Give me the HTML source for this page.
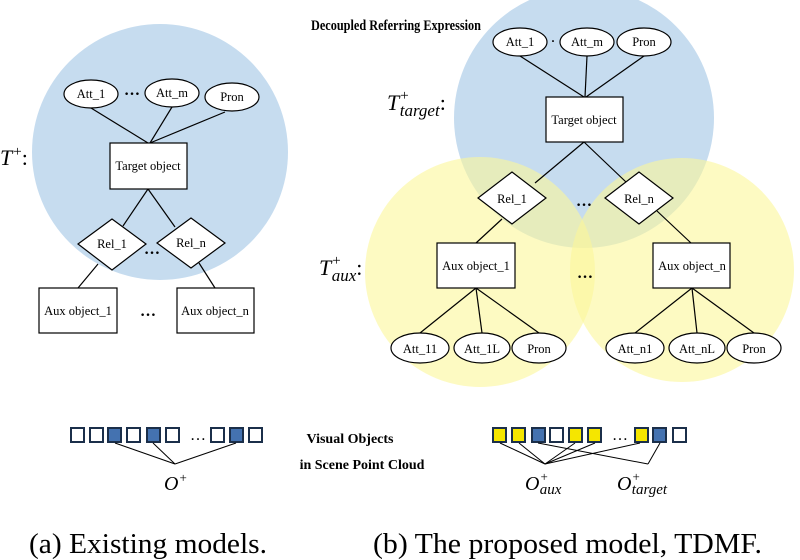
<!DOCTYPE html>
<html><head><meta charset="utf-8"><style>
html,body{margin:0;padding:0;background:#fff;}
svg{display:block;font-family:"Liberation Serif",serif;}
.n{font-size:12.5px;text-anchor:middle;}
</style></head><body>
<svg width="800" height="560" viewBox="0 0 800 560" xmlns="http://www.w3.org/2000/svg">
<circle cx="160" cy="152" r="128" fill="#c6dcef"/>
<circle cx="584" cy="118" r="130" fill="#c6dcef"/>
<circle cx="480" cy="272" r="115" fill="#fcf79a" fill-opacity="0.6"/>
<circle cx="682" cy="270" r="112" fill="#fcf79a" fill-opacity="0.6"/>

<g stroke="#000" stroke-width="1.2" fill="none">
<line x1="91" y1="108" x2="148" y2="143"/><line x1="172" y1="107" x2="150" y2="143"/><line x1="225" y1="112" x2="150" y2="143"/>
<line x1="148" y1="189" x2="123" y2="226"/><line x1="148" y1="189" x2="175" y2="227"/>
<line x1="98" y1="264" x2="78" y2="288"/><line x1="199" y1="263" x2="215" y2="288"/>
<line x1="520" y1="56" x2="584" y2="97"/><line x1="587" y1="56" x2="585" y2="97"/><line x1="644" y1="56" x2="586" y2="97"/>
<line x1="584" y1="142" x2="535" y2="183"/><line x1="584" y1="142" x2="626" y2="182"/>
<line x1="502" y1="219" x2="476" y2="243"/><line x1="657" y1="211" x2="691" y2="243"/>
<line x1="476" y1="288" x2="420" y2="333"/><line x1="476" y1="288" x2="482" y2="333"/><line x1="476" y1="288" x2="539" y2="333"/>
<line x1="692" y1="288" x2="635" y2="333"/><line x1="692" y1="288" x2="697" y2="333"/><line x1="692" y1="288" x2="754" y2="333"/>
</g>

<g stroke="#000" stroke-width="1.2" fill="#fff">
<ellipse cx="91" cy="94" rx="27" ry="14"/><ellipse cx="172" cy="93" rx="27" ry="14"/><ellipse cx="232" cy="97" rx="27" ry="14"/>
<rect x="110" y="143" width="77" height="46"/>
<polygon points="78,244 112,219 146,244 112,270"/>
<polygon points="157,243 191,218 225,243 191,268"/>
<rect x="39" y="288" width="78" height="45"/>
<rect x="177" y="288" width="77" height="45"/>
<ellipse cx="520" cy="42" rx="27" ry="14"/><ellipse cx="587" cy="42" rx="27" ry="14"/><ellipse cx="644" cy="42" rx="27" ry="14"/>
<rect x="546" y="97" width="77" height="45"/>
<polygon points="478,198 512,172 546,198 512,224"/>
<polygon points="605,198 639,172 673,198 639,224"/>
<rect x="437" y="243" width="78" height="45"/>
<rect x="653" y="243" width="77" height="45"/>
<ellipse cx="420" cy="348" rx="29" ry="15"/><ellipse cx="482" cy="348" rx="28" ry="15"/><ellipse cx="539" cy="348" rx="27" ry="15"/>
<ellipse cx="635" cy="348" rx="29" ry="15"/><ellipse cx="697" cy="348" rx="28" ry="15"/><ellipse cx="754" cy="348" rx="27" ry="15"/>
</g>

<g class="n">
<text x="91" y="98">Att_1</text><text x="172" y="97">Att_m</text><text x="232" y="101">Pron</text>
<text x="148" y="170">Target object</text>
<text x="112" y="248">Rel_1</text><text x="191" y="247">Rel_n</text>
<text x="78" y="315">Aux object_1</text><text x="215" y="315">Aux object_n</text>
<text x="520" y="46">Att_1</text><text x="587" y="46">Att_m</text><text x="644" y="46">Pron</text>
<text x="584" y="124">Target object</text>
<text x="512" y="203">Rel_1</text><text x="639" y="203">Rel_n</text>
<text x="476" y="270">Aux object_1</text><text x="692" y="270">Aux object_n</text>
<text x="420" y="353">Att_11</text><text x="482" y="353">Att_1L</text><text x="539" y="353">Pron</text>
<text x="635" y="353">Att_n1</text><text x="697" y="353">Att_nL</text><text x="754" y="353">Pron</text>
</g>
<g font-size="16" text-anchor="middle" font-weight="bold">
<text x="132" y="95">…</text><text x="152" y="254">…</text><text x="148" y="316">…</text>
<text x="584" y="206">…</text><text x="585" y="278">…</text><text x="553" y="45" font-size="12">·</text>
</g>

<g font-style="italic" font-size="22">
<text x="0" y="165">T<tspan font-size="15" dx="1" dy="-9" font-style="normal">+</tspan><tspan dy="9" font-style="normal">:</tspan></text>
<text x="387" y="110">T<tspan font-size="15" dx="1" dy="-10" font-style="normal">+</tspan><tspan font-size="17" dx="-9" dy="16">target</tspan><tspan dy="-6" font-style="normal">:</tspan></text>
<text x="319" y="275">T<tspan font-size="15" dx="1" dy="-10" font-style="normal">+</tspan><tspan font-size="17" dx="-9" dy="16">aux</tspan><tspan dy="-6" font-style="normal">:</tspan></text>
</g>

<text x="396" y="30" font-size="15" font-weight="bold" text-anchor="middle" textLength="170" lengthAdjust="spacingAndGlyphs">Decoupled Referring Expression</text>

<g stroke="#1b2f4a" stroke-width="2">
<rect x="71" y="428" width="13" height="14" fill="#fff"/>
<rect x="90" y="428" width="13" height="14" fill="#fff"/>
<rect x="108" y="428" width="13" height="14" fill="#4472b0"/>
<rect x="127" y="428" width="13" height="14" fill="#fff"/>
<rect x="147" y="428" width="13" height="14" fill="#4472b0"/>
<rect x="166" y="428" width="13" height="14" fill="#fff"/>
<rect x="211" y="428" width="13" height="14" fill="#fff"/>
<rect x="230" y="428" width="13" height="14" fill="#4472b0"/>
<rect x="249" y="428" width="13" height="14" fill="#fff"/>
<rect x="493" y="428" width="13" height="14" fill="#f5e600"/>
<rect x="512" y="428" width="13" height="14" fill="#f5e600"/>
<rect x="532" y="428" width="13" height="14" fill="#4472b0"/>
<rect x="550" y="428" width="13" height="14" fill="#fff"/>
<rect x="569" y="428" width="13" height="14" fill="#f5e600"/>
<rect x="588" y="428" width="13" height="14" fill="#f5e600"/>
<rect x="635" y="428" width="13" height="14" fill="#f5e600"/>
<rect x="653" y="428" width="13" height="14" fill="#4472b0"/>
<rect x="673" y="428" width="13" height="14" fill="#fff"/>
</g>
<g stroke="#000" stroke-width="1">
<line x1="115" y1="443" x2="175" y2="464"/><line x1="153" y1="443" x2="175" y2="464"/><line x1="236" y1="443" x2="175" y2="464"/>
<line x1="500" y1="443" x2="545" y2="464"/><line x1="519" y1="443" x2="545" y2="464"/><line x1="575" y1="443" x2="545" y2="464"/><line x1="595" y1="443" x2="545" y2="464"/><line x1="640" y1="443" x2="545" y2="464"/>
<line x1="538" y1="443" x2="648" y2="464"/><line x1="660" y1="443" x2="648" y2="464"/>
</g>
<g font-size="16" text-anchor="middle"><text x="198" y="440">…</text><text x="620" y="440">…</text></g>
<g font-size="20" font-style="italic">
<text x="164" y="490">O<tspan font-size="13" dx="1" dy="-8" font-style="normal">+</tspan></text>
<text x="525" y="490">O<tspan font-size="13" dx="1" dy="-9" font-style="normal">+</tspan><tspan font-size="15" dx="-8" dy="13">aux</tspan></text>
<text x="617" y="490">O<tspan font-size="13" dx="1" dy="-9" font-style="normal">+</tspan><tspan font-size="15" dx="-8" dy="13">target</tspan></text>
</g>
<g font-size="14" font-weight="bold" text-anchor="middle">
<text x="350" y="443">Visual Objects</text>
<text x="362" y="469">in Scene Point Cloud</text>
</g>

<text x="29" y="553" font-size="28" textLength="238" lengthAdjust="spacingAndGlyphs">(a) Existing models.</text>
<text x="373" y="553" font-size="28" textLength="389" lengthAdjust="spacingAndGlyphs">(b) The proposed model, TDMF.</text>
</svg>
</body></html>
